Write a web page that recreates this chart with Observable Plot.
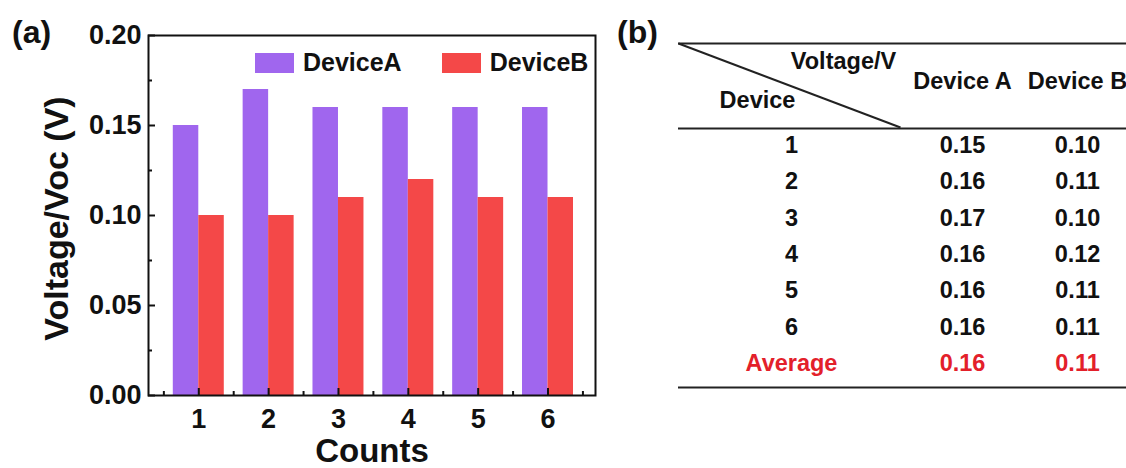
<!DOCTYPE html>
<html>
<head>
<meta charset="utf-8">
<script src="https://cdn.jsdelivr.net/npm/d3@7"></script>
<script src="https://cdn.jsdelivr.net/npm/@observablehq/plot@0.6"></script>
<style>
  html, body { margin: 0; padding: 0; background: #fff; }
  #wrap { position: relative; width: 1126px; height: 468px; overflow: hidden; background: #fff; }
  #pa { position: absolute; left: 0; top: 0; width: 600px; height: 468px; }
  #pb { position: absolute; left: 600px; top: 0; width: 526px; height: 468px; overflow: hidden; }
  .panel { position: absolute; top: 16px; font: bold 32px "Liberation Sans", Arial, sans-serif; line-height: 32px; color: #111; }
  #legend { position: absolute; left: 255px; top: 48px; }
  .lg-swatches { font: bold 25px "Liberation Sans", Arial, sans-serif !important; color: #111 !important; margin: 0 !important; min-height: 0 !important; }
  .lg-swatch { margin-right: 40px !important; }
  .lg-swatch > svg { margin-right: 9px !important; }
</style>
</head>
<body>
<div id="wrap">
  <div id="pa"></div>
  <div id="pb"></div>
  <div id="legend"></div>
  <div class="panel" style="left:12px">(a)</div>
  <div class="panel" style="left:617px">(b)</div>
</div>
<script>
// ---------- data: panel (a) bar chart ----------
const counts = [1, 2, 3, 4, 5, 6];
const deviceA = [0.15, 0.17, 0.16, 0.16, 0.16, 0.16];
const deviceB = [0.10, 0.10, 0.11, 0.12, 0.11, 0.11];
const series = ["DeviceA", "DeviceB"];
const yTicks = [0, 0.05, 0.10, 0.15, 0.20];
const yMinor = [0.025, 0.075, 0.125, 0.175];
const xMinor = [0.5, 1.5, 2.5, 3.5, 4.5, 5.5, 6.5];
const yLabel = "Voltage/Voc (V)";
const xLabel = "Counts";

// ---------- data: panel (b) table ----------
const tableRows = ["1", "2", "3", "4", "5", "6", "Average"];
const tableA = [0.15, 0.16, 0.17, 0.16, 0.16, 0.16, 0.16];
const tableB = [0.10, 0.11, 0.10, 0.12, 0.11, 0.11, 0.11];
const tableHeader = ["Device A", "Device B"];
const cornerTop = "Voltage/V";
const cornerBottom = "Device";

// ---------- styles ----------
const FONT = '"Liberation Sans", Arial, sans-serif';
const colors = ["#A066EE", "#F44848"];
const INK = "#111";
const RED = "#E3202A";
const fmt2 = d3.format(".2f");

// ---------- panel (a) ----------
const W = 600, H = 468, ML = 148, MR = 5, MT = 35, MB = 73;
const frameW = W - ML - MR, frameH = H - MT - MB;
const bars = counts.flatMap((c, i) => [
  {count: c, series: series[0], value: deviceA[i]},
  {count: c, series: series[1], value: deviceB[i]}
]);
const barW = 0.365;
const majorLen = 7, minorLen = 4;

const chartA = Plot.plot({
  width: W,
  height: H,
  marginLeft: ML,
  marginRight: MR,
  marginTop: MT,
  marginBottom: MB,
  style: {fontFamily: FONT, fontWeight: "bold", color: INK, background: "transparent"},
  x: {type: "linear", domain: [0.28, 6.68]},
  y: {type: "linear", domain: [0, 0.2]},
  color: {domain: series, range: colors},
  marks: [
    Plot.rect(bars, {
      x1: d => d.series === series[0] ? d.count - barW : d.count,
      x2: d => d.series === series[0] ? d.count : d.count + barW,
      y1: 0,
      y2: "value",
      fill: "series"
    }),
    Plot.frame({stroke: INK, strokeWidth: 2}),
    // inward tick marks
    Plot.tickY(yTicks, {y: d => d, insetRight: frameW - majorLen, stroke: INK, strokeWidth: 2}),
    Plot.tickY(yMinor, {y: d => d, insetRight: frameW - minorLen, stroke: INK, strokeWidth: 2}),
    Plot.tickX(counts, {x: d => d, insetTop: frameH - majorLen, stroke: INK, strokeWidth: 2}),
    Plot.tickX(xMinor, {x: d => d, insetTop: frameH - minorLen, stroke: INK, strokeWidth: 2}),
    // tick labels
    Plot.axisY(yTicks, {tickSize: 0, tickPadding: 7, tickFormat: fmt2, fontSize: 27, label: null}),
    Plot.axisX(counts, {tickSize: 0, tickPadding: 13, tickFormat: d => String(d), fontSize: 27, label: null}),
    // axis titles
    Plot.text([yLabel], {frameAnchor: "left", textAnchor: "middle", dx: -91, dy: 3, rotate: -90, fontSize: 34, lineAnchor: "middle", fill: INK}),
    Plot.text([xLabel], {frameAnchor: "bottom", textAnchor: "middle", dy: 56, fontSize: 33, lineAnchor: "middle", fill: INK})
  ]
});
document.getElementById("pa").appendChild(chartA);

const legend = Plot.legend({
  color: {domain: series, range: colors},
  legend: "swatches",
  swatchWidth: 39,
  swatchHeight: 20,
  className: "lg"
});
document.getElementById("legend").appendChild(legend);

// ---------- panel (b) table ----------
// table layout (pixels inside panel b)
const colX = [191, 362, 477];
const rowY0 = 145, rowStep = 36.33;
const lineX1 = 78, lineX2 = 526;
const lineTop = 43, lineHead = 128, lineBottom = 387;
const rowY = i => rowY0 + i * rowStep;
const TFS = 23.5;

const bodyRows = tableRows.map((r, i) => ({row: r, a: tableA[i], b: tableB[i], i}));
const normalRows = bodyRows.filter(d => d.row !== "Average");
const avgRows = bodyRows.filter(d => d.row === "Average");

const cellMarks = (data, fill) => [
  Plot.text(data, {x: () => colX[0], y: d => rowY(d.i), text: d => d.row, fontSize: TFS, fill}),
  Plot.text(data, {x: () => colX[1], y: d => rowY(d.i), text: d => fmt2(d.a), fontSize: TFS, fill}),
  Plot.text(data, {x: () => colX[2], y: d => rowY(d.i), text: d => fmt2(d.b), fontSize: TFS, fill})
];

const chartB = Plot.plot({
  width: 526,
  height: 468,
  margin: 0,
  style: {fontFamily: FONT, fontWeight: "bold", color: INK, background: "transparent"},
  x: {type: "identity"},
  y: {type: "identity"},
  marks: [
    Plot.ruleY([lineTop, lineHead, lineBottom], {x1: () => lineX1, x2: () => lineX2, stroke: "#222", strokeWidth: 2}),
    Plot.link([cornerTop], {x1: () => lineX1, y1: () => lineTop, x2: () => 300, y2: () => lineHead - 1, stroke: "#222", strokeWidth: 2}),
    Plot.text([cornerTop], {x: () => 243, y: () => 61, fontSize: TFS, fill: INK}),
    Plot.text([cornerBottom], {x: () => 157, y: () => 100, fontSize: TFS, fill: INK}),
    Plot.text(tableHeader, {x: (d, i) => colX[i + 1], y: () => 81, fontSize: TFS, fill: INK}),
    ...cellMarks(normalRows, INK),
    ...cellMarks(avgRows, RED)
  ]
});
document.getElementById("pb").appendChild(chartB);
</script>
</body>
</html>
